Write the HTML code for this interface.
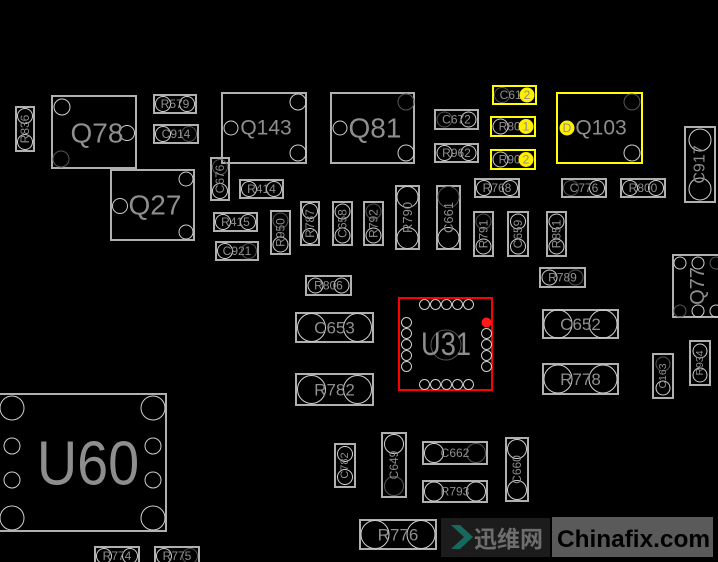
<!DOCTYPE html>
<html><head><meta charset="utf-8"><style>
html,body{margin:0;padding:0;background:#000;}
svg{display:block;}
.b{fill:none;stroke:#b0b0b0;stroke-width:2;}
.y{fill:none;stroke:#ffff00;stroke-width:2;}
.c{fill:none;stroke:#d0d0d0;stroke-width:1;}
.d{fill:none;stroke:#555;stroke-width:1;}
.t{font-family:"Liberation Sans",sans-serif;fill:#8e8e8e;text-anchor:middle;dominant-baseline:central;}
</style></head><body>
<svg width="718" height="562" viewBox="0 0 718 562" xmlns="http://www.w3.org/2000/svg">
<rect width="718" height="562" fill="#000"/>

<!-- R836 -->
<rect class="b" x="16" y="107" width="18" height="44"/>
<circle class="c" cx="25" cy="116" r="7.5"/><circle class="c" cx="25" cy="142" r="7.5"/>
<text class="t" font-size="12" transform="translate(25,129) rotate(-90)">R836</text>

<!-- Q78 -->
<rect class="b" x="52" y="96" width="84" height="72"/>
<circle class="c" cx="62" cy="107" r="8"/><circle class="c" cx="127" cy="133" r="7.5"/><circle class="d" cx="61" cy="159" r="8"/>
<text class="t" font-size="28" x="97" y="133">Q78</text>

<!-- R579 / C914 -->
<rect class="b" x="154" y="95" width="42" height="18"/>
<circle class="c" cx="163" cy="104" r="7.5"/><circle class="c" cx="187" cy="104" r="7.5"/>
<text class="t" font-size="12" x="175" y="104">R579</text>
<rect class="b" x="154" y="125" width="44" height="18"/>
<circle class="c" cx="163" cy="134" r="7.5"/><circle class="d" cx="189" cy="134" r="7.5"/>
<text class="t" font-size="12" x="176" y="134">C914</text>

<!-- Q27 -->
<rect class="b" x="111" y="170" width="83" height="70"/>
<circle class="c" cx="186" cy="179" r="7"/><circle class="c" cx="120" cy="206" r="7.5"/><circle class="c" cx="186" cy="232" r="7"/>
<text class="t" font-size="28" x="155" y="205">Q27</text>

<!-- Q143 -->
<rect class="b" x="222" y="93" width="84" height="70"/>
<circle class="c" cx="298" cy="102" r="8"/><circle class="c" cx="231" cy="128" r="7"/><circle class="c" cx="298" cy="153" r="8"/>
<text class="t" font-size="21" x="266" y="128">Q143</text>

<!-- Q81 -->
<rect class="b" x="331" y="93" width="83" height="70"/>
<circle class="d" cx="406" cy="102" r="8"/><circle class="c" cx="340" cy="128" r="7"/><circle class="c" cx="406" cy="153" r="8"/>
<text class="t" font-size="28" x="375" y="128">Q81</text>

<!-- C672 / R962 -->
<rect class="b" x="435" y="110" width="43" height="19"/>
<circle class="d" cx="444.5" cy="119.5" r="7.5"/><circle class="c" cx="468.5" cy="119.5" r="7.5"/>
<text class="t" font-size="12" x="456.5" y="119.5">C672</text>
<rect class="b" x="435" y="144" width="43" height="18"/>
<circle class="c" cx="444.5" cy="153" r="7.5"/><circle class="c" cx="468.5" cy="153" r="7.5"/>
<text class="t" font-size="12" x="456.5" y="153">R962</text>

<!-- C676 -->
<rect class="b" x="211" y="158" width="18" height="42"/>
<circle class="d" cx="220" cy="167" r="7.5"/><circle class="c" cx="220" cy="191" r="7.5"/>
<text class="t" font-size="12" transform="translate(220,179) rotate(-90)">C676</text>

<!-- R414 R415 C921 -->
<rect class="b" x="240" y="180" width="43" height="18"/>
<circle class="c" cx="249" cy="189" r="7.5"/><circle class="c" cx="274" cy="189" r="7.5"/>
<text class="t" font-size="12" x="261.5" y="189">R414</text>
<rect class="b" x="214" y="213" width="43" height="18"/>
<circle class="c" cx="223" cy="222" r="7.5"/><circle class="c" cx="248" cy="222" r="7.5"/>
<text class="t" font-size="12" x="235.5" y="222">R415</text>
<rect class="b" x="216" y="242" width="42" height="18"/>
<circle class="c" cx="225" cy="251" r="7.5"/><circle class="d" cx="249" cy="251" r="7.5"/>
<text class="t" font-size="12" x="237" y="251">C921</text>

<!-- vertical small row -->
<rect class="b" x="271" y="211" width="19" height="43"/>
<circle class="d" cx="280.5" cy="220.5" r="7.5"/><circle class="c" cx="280.5" cy="244.5" r="7.5"/>
<text class="t" font-size="12" transform="translate(280.5,232.5) rotate(-90)">R950</text>
<rect class="b" x="301" y="202" width="18" height="43"/>
<circle class="c" cx="310" cy="211" r="7.5"/><circle class="c" cx="310" cy="236" r="7.5"/>
<text class="t" font-size="12" transform="translate(310,223.5) rotate(-90)">R787</text>
<rect class="b" x="333" y="202" width="19" height="43"/>
<circle class="c" cx="342.5" cy="211.5" r="7.5"/><circle class="c" cx="342.5" cy="235.5" r="7.5"/>
<text class="t" font-size="12" transform="translate(342.5,223.5) rotate(-90)">C658</text>
<rect class="b" x="364" y="202" width="19" height="43"/>
<circle class="d" cx="373.5" cy="211.5" r="7.5"/><circle class="c" cx="373.5" cy="235.5" r="7.5"/>
<text class="t" font-size="12" transform="translate(373.5,223.5) rotate(-90)">R792</text>
<rect class="b" x="396" y="186" width="23" height="63"/>
<circle class="c" cx="407.5" cy="197" r="10.5"/><circle class="c" cx="407.5" cy="238" r="10.5"/>
<text class="t" font-size="13" transform="translate(407.5,217.5) rotate(-90)">R790</text>
<rect class="b" x="437" y="186" width="23" height="63"/>
<circle class="d" cx="448.5" cy="197" r="10.5"/><circle class="c" cx="448.5" cy="238" r="10.5"/>
<text class="t" font-size="13" transform="translate(448.5,217.5) rotate(-90)">C661</text>

<!-- yellow parts -->
<rect class="y" x="493" y="86" width="43" height="18"/>
<circle class="d" cx="502" cy="95" r="7.5"/>
<text class="t" font-size="12" x="514" y="95">C612</text>
<circle cx="527" cy="95" r="7.5" fill="#ffee00"/>
<text class="t" font-size="12" x="527" y="95">2</text>

<rect class="y" x="491" y="117" width="44" height="19"/>
<circle class="c" cx="500.5" cy="126.5" r="7.5"/>
<text class="t" font-size="12" x="513" y="126.5">R801</text>
<circle cx="526" cy="126.5" r="7.5" fill="#ffee00"/>
<text class="t" font-size="12" x="526" y="126.5">1</text>

<rect class="y" x="491" y="150" width="44" height="19"/>
<circle class="c" cx="500.5" cy="159.5" r="7.5"/>
<text class="t" font-size="12" x="513" y="159.5">R902</text>
<circle cx="526" cy="159.5" r="7.5" fill="#ffee00"/>
<text class="t" font-size="12" x="526" y="159.5">2</text>

<rect class="y" x="557" y="93" width="85" height="70"/>
<circle class="d" cx="632" cy="102" r="8"/><circle class="c" cx="632" cy="153" r="8"/>
<circle cx="567" cy="128" r="7.5" fill="#ffee00"/>
<text class="t" font-size="12" x="567" y="128">D</text>
<text class="t" font-size="21" x="601" y="128">Q103</text>

<!-- C917 -->
<rect class="b" x="685" y="127" width="30" height="75"/>
<circle class="c" cx="700" cy="140" r="11"/><circle class="c" cx="700" cy="189" r="11"/>
<text class="t" font-size="16" transform="translate(700,164.5) rotate(-90)">C917</text>

<!-- R768 C776 R800 -->
<rect class="b" x="475" y="179" width="44" height="18"/>
<circle class="c" cx="484" cy="188" r="7.5"/><circle class="c" cx="510" cy="188" r="7.5"/>
<text class="t" font-size="12" x="497" y="188">R768</text>
<rect class="b" x="562" y="179" width="44" height="18"/>
<circle class="d" cx="571" cy="188" r="7.5"/><circle class="c" cx="597" cy="188" r="7.5"/>
<text class="t" font-size="12" x="584" y="188">C776</text>
<rect class="b" x="621" y="179" width="44" height="18"/>
<circle class="c" cx="630" cy="188" r="7.5"/><circle class="c" cx="656" cy="188" r="7.5"/>
<text class="t" font-size="12" x="643" y="188">R800</text>

<!-- R791 C659 R851 -->
<rect class="b" x="474" y="212" width="19" height="44"/>
<circle class="d" cx="483.5" cy="221.5" r="7.5"/><circle class="c" cx="483.5" cy="246.5" r="7.5"/>
<text class="t" font-size="12" transform="translate(483.5,234) rotate(-90)">R791</text>
<rect class="b" x="508" y="212" width="20" height="44"/>
<circle class="c" cx="518" cy="221.5" r="7.5"/><circle class="c" cx="518" cy="246.5" r="7.5"/>
<text class="t" font-size="12" transform="translate(518,234) rotate(-90)">C659</text>
<rect class="b" x="547" y="212" width="19" height="44"/>
<circle class="c" cx="556.5" cy="221.5" r="7.5"/><circle class="c" cx="556.5" cy="246.5" r="7.5"/>
<text class="t" font-size="12" transform="translate(556.5,234) rotate(-90)">R851</text>

<!-- R806 -->
<rect class="b" x="306" y="276" width="45" height="19"/>
<circle class="c" cx="315.5" cy="285.5" r="7.5"/><circle class="c" cx="341.5" cy="285.5" r="7.5"/>
<text class="t" font-size="12" x="328.5" y="285.5">R806</text>

<!-- C653 R782 -->
<rect class="b" x="296" y="313" width="77" height="29"/>
<circle class="c" cx="311.5" cy="327.5" r="14"/><circle class="c" cx="357.5" cy="327.5" r="14"/>
<text class="t" font-size="17" x="334.5" y="328">C653</text>
<rect class="b" x="296" y="374" width="77" height="31"/>
<circle class="c" cx="311.5" cy="389.5" r="14"/><circle class="c" cx="357.5" cy="389.5" r="14"/>
<text class="t" font-size="17" x="334.5" y="390">R782</text>

<!-- U31 -->
<rect x="399" y="298" width="93" height="92" fill="none" stroke="#ff0000" stroke-width="2"/>
<g class="c">
<circle cx="424.5" cy="304.5" r="5"/><circle cx="435.5" cy="304.5" r="5"/><circle cx="446.5" cy="304.5" r="5"/><circle cx="457.5" cy="304.5" r="5"/><circle cx="468.5" cy="304.5" r="5"/>
<circle cx="424.5" cy="384.5" r="5"/><circle cx="435.5" cy="384.5" r="5"/><circle cx="446.5" cy="384.5" r="5"/><circle cx="457.5" cy="384.5" r="5"/><circle cx="468.5" cy="384.5" r="5"/>
<circle cx="406.5" cy="322.5" r="5"/><circle cx="406.5" cy="333.5" r="5"/><circle cx="406.5" cy="344.5" r="5"/><circle cx="406.5" cy="355.5" r="5"/><circle cx="406.5" cy="366.5" r="5"/>
<circle cx="486.5" cy="333.5" r="5"/><circle cx="486.5" cy="344.5" r="5"/><circle cx="486.5" cy="355.5" r="5"/><circle cx="486.5" cy="366.5" r="5"/>
</g>
<circle cx="486.5" cy="322.5" r="5" fill="#ff1a1a"/>
<circle class="d" cx="446" cy="345" r="15"/>
<text class="t" font-size="32" transform="translate(446,345) scale(0.85,1)">U31</text>

<!-- R789 C652 R778 -->
<rect class="b" x="540" y="268" width="45" height="19"/>
<circle class="c" cx="549.5" cy="277.5" r="7.5"/><circle class="d" cx="575.5" cy="277.5" r="7.5"/>
<text class="t" font-size="12" x="562.5" y="277.5">R789</text>
<rect class="b" x="543" y="310" width="75" height="28"/>
<circle class="c" cx="558" cy="324" r="14"/><circle class="c" cx="603" cy="324" r="14"/>
<text class="t" font-size="17" x="580.5" y="324.5">C652</text>
<rect class="b" x="543" y="364" width="75" height="30"/>
<circle class="c" cx="558" cy="379" r="14"/><circle class="c" cx="603" cy="379" r="14"/>
<text class="t" font-size="17" x="580.5" y="379.5">R778</text>

<!-- Q77 -->
<rect class="b" x="673" y="255" width="60" height="62"/>
<circle class="c" cx="680" cy="263" r="6"/><circle class="c" cx="698" cy="263" r="6"/><circle class="d" cx="716" cy="263" r="6"/>
<circle class="d" cx="680" cy="311" r="6"/><circle class="c" cx="698" cy="311" r="6"/><circle class="c" cx="716" cy="311" r="6"/>
<text class="t" font-size="20" transform="translate(698,286) rotate(-90)">Q77</text>

<!-- C163 R934 -->
<rect class="b" x="653" y="354" width="20" height="44"/>
<circle class="d" cx="663" cy="364" r="7"/><circle class="c" cx="663" cy="388" r="7"/>
<text class="t" font-size="10.5" transform="translate(663,376) rotate(-90)">C163</text>
<rect class="b" x="690" y="341" width="20" height="44"/>
<circle class="c" cx="700" cy="351" r="7"/><circle class="c" cx="700" cy="375" r="7"/>
<text class="t" font-size="10.5" transform="translate(700,363) rotate(-90)">R934</text>

<!-- U60 -->
<rect class="b" x="-5" y="394" width="171" height="137"/>
<circle class="c" cx="12" cy="408" r="12"/><circle class="c" cx="12" cy="518" r="12"/>
<circle class="c" cx="12" cy="446" r="8"/><circle class="c" cx="12" cy="480" r="8"/>
<circle class="c" cx="153" cy="408" r="12"/><circle class="c" cx="153" cy="518" r="12"/>
<circle class="c" cx="153" cy="446" r="8"/><circle class="c" cx="153" cy="480" r="8"/>
<text class="t" font-size="62" transform="translate(88,464) scale(0.9,1)">U60</text>

<!-- R774 R775 -->
<rect class="b" x="95" y="547" width="44" height="20"/>
<circle class="c" cx="104" cy="556" r="7.5"/><circle class="c" cx="130" cy="556" r="7.5"/>
<text class="t" font-size="12" x="117" y="556">R774</text>
<rect class="b" x="155" y="547" width="44" height="20"/>
<circle class="c" cx="164" cy="556" r="7.5"/><circle class="d" cx="190" cy="556" r="7.5"/>
<text class="t" font-size="12" x="177" y="556">R775</text>

<!-- bottom middle -->
<rect class="b" x="335" y="444" width="20" height="43"/>
<circle class="c" cx="345" cy="454" r="7.5"/><circle class="c" cx="345" cy="477" r="7.5"/>
<text class="t" font-size="11" transform="translate(345,465.5) rotate(-90)">C782</text>
<rect class="b" x="382" y="433" width="24" height="64"/>
<circle class="c" cx="394" cy="444" r="9.5"/><circle class="d" cx="394" cy="486" r="9.5"/>
<text class="t" font-size="12" transform="translate(394,465) rotate(-90)">C649</text>
<rect class="b" x="423" y="442" width="64" height="22"/>
<circle class="c" cx="434" cy="453" r="9.5"/><circle class="d" cx="476" cy="453" r="9.5"/>
<text class="t" font-size="12" x="455" y="453">C662</text>
<rect class="b" x="423" y="481" width="64" height="21"/>
<circle class="c" cx="434" cy="491.5" r="9.5"/><circle class="c" cx="476" cy="491.5" r="9.5"/>
<text class="t" font-size="12" x="455" y="491.5">R793</text>
<rect class="b" x="506" y="438" width="22" height="63"/>
<circle class="c" cx="517" cy="449" r="9.5"/><circle class="c" cx="517" cy="490" r="9.5"/>
<text class="t" font-size="12" transform="translate(517,469.5) rotate(-90)">C660</text>
<rect class="b" x="360" y="520" width="76" height="29"/>
<circle class="c" cx="375" cy="534.5" r="14"/><circle class="c" cx="421" cy="534.5" r="14"/>
<text class="t" font-size="17" x="398" y="535">R776</text>

<!-- watermark -->
<rect x="441" y="518" width="109" height="39" fill="#1c1c1c"/>
<polygon points="451,525 460,525 473,537 460,549 451,549 464,537" fill="#17695c"/>
<text x="474" y="547" font-size="23" font-weight="bold" fill="#6e6e6e" font-family="'Liberation Sans','Noto Sans CJK SC',sans-serif">迅维网</text>
<rect x="552" y="517" width="161" height="40" fill="#5a5a5a"/>
<text x="557" y="547" font-size="24" font-weight="bold" fill="#000" font-family="'Liberation Sans',sans-serif" textLength="153" lengthAdjust="spacingAndGlyphs">Chinafix.com</text>
</svg>
</body></html>
